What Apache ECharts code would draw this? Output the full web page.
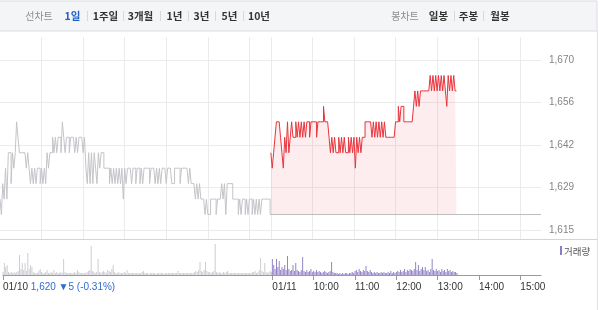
<!DOCTYPE html>
<html><head><meta charset="utf-8">
<script src="https://cdn.jsdelivr.net/npm/echarts@6/dist/echarts.min.js"></script>
<style>html,body{margin:0;padding:0;background:#fff}#c{width:600px;height:310px}</style>
</head><body><div id="c"></div>
<script>
// ---- data ----
const prevClose = 1620;
// day 1 (01/10) price, one value every 2 minutes from 09:00 to 15:30
const day1Price = [
 1625,1620,1630,1625,1635,1625,1640,1640,1630,1640,
 1635,1640,1650,1645,1640,1640,1640,1640,1640,1635,
 1640,1635,1630,1635,1630,1635,1630,1635,1635,1630,
 1635,1630,1635,1630,1640,1635,1640,1640,1645,1640,
 1645,1640,1645,1645,1640,1650,1645,1640,1645,1645,
 1640,1645,1645,1645,1640,1645,1640,1645,1645,1645,
 1640,1645,1635,1630,1640,1630,1640,1630,1640,1635,
 1630,1640,1635,1640,1640,1635,1635,1635,1635,1630,
 1635,1630,1635,1630,1635,1630,1635,1630,1635,1625,
 1635,1630,1635,1635,1635,1630,1635,1635,1630,1635,
 1635,1630,1635,1630,1635,1635,1635,1635,1630,1635,
 1635,1635,1630,1635,1630,1635,1630,1635,1635,1635,
 1630,1635,1635,1635,1630,1630,1635,1635,1635,1635,
 1630,1635,1635,1635,1635,1635,1630,1635,1630,1630,
 1630,1625,1630,1625,1630,1625,1625,1625,1620,1625,
 1620,1620,1625,1625,1625,1625,1620,1625,1625,1625,
 1630,1625,1630,1620,1630,1630,1630,1630,1625,1625,
 1625,1625,1620,1625,1620,1625,1625,1620,1625,1620,
 1625,1625,1620,1625,1620,1625,1620,1625,1620,1625,
 1625,1625,1625,1625,1625,1620];
// day 2 (01/11) price, one value every 2 minutes from 09:00
const day2Price = [
 1640,1635,1640,1645,1650,1650,1650,1645,1640,1635,
 1645,1640,1650,1640,1645,1650,1645,1645,1650,1645,
 1650,1645,1650,1645,1650,1645,1650,1650,1645,1650,
 1650,1650,1650,1645,1650,1650,1650,1650,1655,1650,
 1650,1650,1645,1640,1645,1640,1645,1640,1640,1645,
 1640,1645,1640,1645,1640,1640,1645,1640,1645,1640,
 1645,1635,1645,1640,1645,1640,1645,1645,1650,1650,
 1650,1650,1650,1645,1650,1645,1650,1645,1650,1645,
 1650,1645,1650,1645,1645,1645,1645,1645,1645,1645,
 1650,1650,1655,1650,1655,1655,1650,1650,1650,1650,
 1650,1650,1650,1655,1660,1655,1660,1655,1660,1660,
 1660,1660,1660,1660,1660,1665,1660,1665,1660,1665,
 1660,1665,1660,1665,1660,1665,1660,1655,1665,1660,
 1665,1660,1665,1660,1660];
const day1Volume = [
 3,12,8,10,3,2,3,2,3,2, 3,4,20,6,12,5,12,4,22,6,
 10,8,3,2,2,2,4,6,3,2, 2,3,5,2,2,3,2,5,2,3,
 2,2,3,2,16,3,2,2,2,2, 2,2,3,2,5,3,2,2,2,2,
 2,3,4,5,29,4,3,2,3,16, 3,2,3,4,3,2,5,4,3,6,
 10,3,2,2,3,2,2,2,3,2, 5,2,2,2,2,2,2,2,2,2,
 2,3,4,2,2,2,1,2,2,2, 2,1,2,2,2,2,2,1,2,2,
 2,2,2,2,2,2,2,4,2,2, 2,2,2,2,2,2,2,2,2,3,
 4,3,5,13,4,3,5,13,4,3, 3,2,3,4,31,3,2,3,2,2,
 3,2,3,4,2,2,2,2,2,2, 2,2,2,2,2,2,2,2,2,2,
 2,3,3,4,2,3,5,17,4,3, 12,3,2,3,4,3];
const day2Volume = [
 16,10,6,16,8,14,5,8,6,10, 5,19,6,4,5,10,4,12,5,4,
 3,5,18,4,3,5,3,4,6,3, 4,3,5,3,4,3,2,3,4,3,
 2,3,4,13,3,2,2,2,1,2, 1,2,1,2,2,1,2,2,3,2,
 4,5,3,6,4,3,5,4,9,4, 3,5,3,2,3,2,3,2,2,3,
 2,3,2,2,3,2,4,2,3,2, 3,4,3,5,3,4,6,3,5,4,
 6,5,4,6,13,5,10,4,6,8, 5,8,4,5,3,6,16,5,4,6,
 4,5,3,6,4,5,3,6,4,5, 3,4,3,3,2];
const yTickLabels = ['1,615','1,629','1,642','1,656','1,670'];
const dateLabels = ['01/10','01/11'];
const hourLabels = ['10:00','11:00','12:00','13:00','14:00','15:00'];
const changeText = '1,620 ▼5 (-0.31%)';
const periodTabs = ['1일','1주일','3개월','1년','3년','5년','10년'];
const candleTabs = ['일봉','주봉','월봉'];
const lineChartTitle = '선차트';
const candleChartTitle = '봉차트';
const volumeName = '거래량';

// ---- layout ----
const STEP = 2, DAY = 390, D2 = 391, N = 782;
const cats = Array.from({length: N}, (_, i) => String(i));
const labelMap = {0: dateLabels[0]};
labelMap[D2] = dateLabels[1];
hourLabels.forEach((h, k) => { labelMap[D2 + 60 * (k + 1)] = h; });
const gridMarks = new Set([D2]);
for (let h = 1; h <= 6; h++) { gridMarks.add(60 * h); gridMarks.add(D2 + 60 * h); }

const FONT = "'Liberation Sans', 'Noto Sans CJK KR', sans-serif";
const KFONT = "'Noto Sans CJK KR', 'Liberation Sans', sans-serif";

const graphics = [
  {type: 'rect', shape: {x: -1, y: 1, width: 598, height: 30}, style: {fill: '#f4f5f7', stroke: '#dcdde0', lineWidth: 1}, silent: true},
  {type: 'line', shape: {x1: 0, y1: 239.5, x2: 597, y2: 239.5}, style: {stroke: '#d4d4d4', lineWidth: 1}, silent: true},
  {type: 'line', shape: {x1: 597.5, y1: 31, x2: 597.5, y2: 310}, style: {stroke: '#e2e2e2', lineWidth: 1}, silent: true}
];
function txt(x, y, t, opts) {
  graphics.push({type: 'text', x: x, y: y, silent: true, style: Object.assign({
    text: t, textAlign: 'center', textVerticalAlign: 'middle', fontFamily: KFONT, fontSize: 10.5, fontWeight: 'bold', fill: '#333'
  }, opts || {})});
}
function sep(x) {
  graphics.push({type: 'line', silent: true, shape: {x1: x + 0.5, y1: 11, x2: x + 0.5, y2: 21}, style: {stroke: '#d9d9d9', lineWidth: 1}});
}
txt(39, 16, lineChartTitle, {fontWeight: 'normal', fill: '#8c8c8c', fontSize: 10});
const tabCenters = [72.5, 105.5, 140.5, 174.5, 201.5, 229.5, 259];
const tabSeps = [87, 123, 160, 188, 215, 243];
periodTabs.forEach((t, i) => txt(tabCenters[i], 16, t, i === 0 ? {fill: '#1f5fc8'} : {}));
tabSeps.forEach(sep);
txt(405, 16, candleChartTitle, {fontWeight: 'normal', fill: '#8c8c8c', fontSize: 10});
const candleCenters = [438.5, 468.5, 500];
candleTabs.forEach((t, i) => txt(candleCenters[i], 16, t));
[454, 483].forEach(sep);
graphics.push({type: 'rect', silent: true, shape: {x: 560, y: 246, width: 2, height: 9}, style: {fill: '#8c7cc4'}});
txt(564, 251, volumeName, {textAlign: 'left', fontWeight: 'normal', fontSize: 9.5, fill: '#555'});

const chart = echarts.init(document.getElementById('c'), null, {renderer: 'canvas'});
chart.setOption({
  animation: false,
  graphic: graphics,
  grid: [
    {left: 0, top: 60, width: 541, height: 170},
    {left: 0, top: 37, width: 541, height: 202},
    {left: 0, top: 241, width: 541, height: 34}
  ],
  xAxis: [
    {gridIndex: 0, type: 'category', data: cats, boundaryGap: false, show: false},
    {gridIndex: 1, type: 'category', data: cats, boundaryGap: false,
      axisLine: {show: false}, axisTick: {show: false}, axisLabel: {show: false},
      splitLine: {show: true, interval: (i) => gridMarks.has(i), lineStyle: {color: '#ebebeb', width: 1}}},
    {gridIndex: 2, type: 'category', data: cats, boundaryGap: false,
      axisLine: {show: true, lineStyle: {color: '#9a9a9a', width: 1}},
      axisTick: {show: true, length: 5, interval: (i) => labelMap[i] !== undefined, lineStyle: {color: '#9a9a9a'}},
      axisLabel: {show: true, interval: (i) => labelMap[i] !== undefined, align: 'left', margin: 7,
        color: '#333', fontSize: 10, fontFamily: FONT,
        formatter: (v) => { const i = Number(v); return i === 0 ? labelMap[i] + ' {c|' + changeText + '}' : labelMap[i]; },
        rich: {c: {color: '#2f6bd1', fontSize: 10, fontFamily: FONT}}},
      splitLine: {show: false}}
  ],
  yAxis: [
    {gridIndex: 0, type: 'value', min: 0, max: 4, interval: 1, position: 'right',
      axisLine: {show: false}, axisTick: {show: false},
      axisLabel: {formatter: (v) => yTickLabels[v], margin: 8, color: '#858585', fontSize: 10, fontFamily: FONT},
      splitLine: {show: true, lineStyle: {color: '#ebebeb', width: 1}}},
    {gridIndex: 0, type: 'value', min: 1615, max: 1670, show: false},
    {gridIndex: 1, type: 'value', min: 0, max: 1, show: false},
    {gridIndex: 2, type: 'value', min: 0, max: 34, show: false}
  ],
  series: [
    {type: 'line', xAxisIndex: 1, yAxisIndex: 2, data: [], silent: true},
    {type: 'line', xAxisIndex: 0, yAxisIndex: 1, data: day1Price.map((v, i) => [i * STEP, v]),
      symbol: 'none', step: 'end', lineStyle: {color: '#c4c4c9', width: 1}, silent: true},
    {type: 'line', xAxisIndex: 0, yAxisIndex: 1, data: [[DAY, prevClose], [N - 1, prevClose]],
      symbol: 'none', lineStyle: {color: '#bdbdbd', width: 1}, silent: true},
    {type: 'line', xAxisIndex: 0, yAxisIndex: 1, data: day2Price.map((v, i) => [D2 + i * STEP, v]),
      symbol: 'none', step: 'end', lineStyle: {color: '#e8343c', width: 1},
      areaStyle: {color: 'rgba(244,67,77,0.14)', origin: prevClose}, silent: true},
    {type: 'bar', xAxisIndex: 2, yAxisIndex: 3, data: day1Volume.map((v, i) => [i * STEP, v]),
      barWidth: 1, barGap: '-100%', itemStyle: {color: '#cdcdd3'}, silent: true},
    {type: 'bar', xAxisIndex: 2, yAxisIndex: 3, data: day2Volume.map((v, i) => [D2 + i * STEP, v]),
      barWidth: 1, barGap: '-100%', itemStyle: {color: '#9484c8'}, silent: true}
  ]
});
</script>
</body></html>
